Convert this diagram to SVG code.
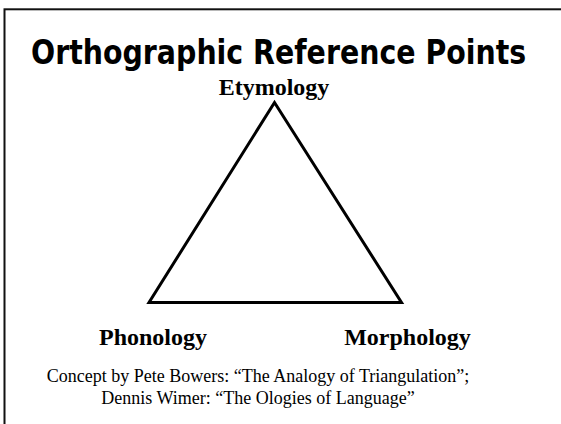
<svg xmlns="http://www.w3.org/2000/svg" width="561" height="424" viewBox="0 0 561 424">
<style>
.title{font-family:"DejaVu Sans","Liberation Sans",sans-serif;font-weight:bold;font-size:34px;fill:#000}
.node{font-family:"Liberation Serif","Times New Roman",serif;font-weight:bold;font-size:24px;fill:#000}
.cap{font-family:"Liberation Serif","Times New Roman",serif;font-size:18px;fill:#000}
.edge{stroke:#000;stroke-width:3;fill:none;stroke-linecap:square}
</style>
<rect x="0" y="0" width="561" height="424" fill="#fff"/>
<rect x="4.5" y="9.3" width="600" height="500" fill="none" stroke="#111" stroke-width="2"/>
<text class="title" x="0" y="0" transform="translate(31,64) scale(0.836,1)">Orthographic Reference Points</text>
<g id="connectors">
<polygon class="edge" points="274.5,102.5 149,302.5 401.5,302.5" stroke-linejoin="miter"/>
</g>
<g id="etymology"><text class="node" x="274" y="95" text-anchor="middle">Etymology</text></g>
<g id="phonology"><text class="node" x="153" y="345" text-anchor="middle">Phonology</text></g>
<g id="morphology"><text class="node" x="407.5" y="345" text-anchor="middle">Morphology</text></g>
<g id="caption">
<text class="cap" x="258" y="382" text-anchor="middle">Concept by Pete Bowers: “The Analogy of Triangulation”;</text>
<text class="cap" x="258" y="404" text-anchor="middle">Dennis Wimer: “The Ologies of Language”</text>
</g>
</svg>
